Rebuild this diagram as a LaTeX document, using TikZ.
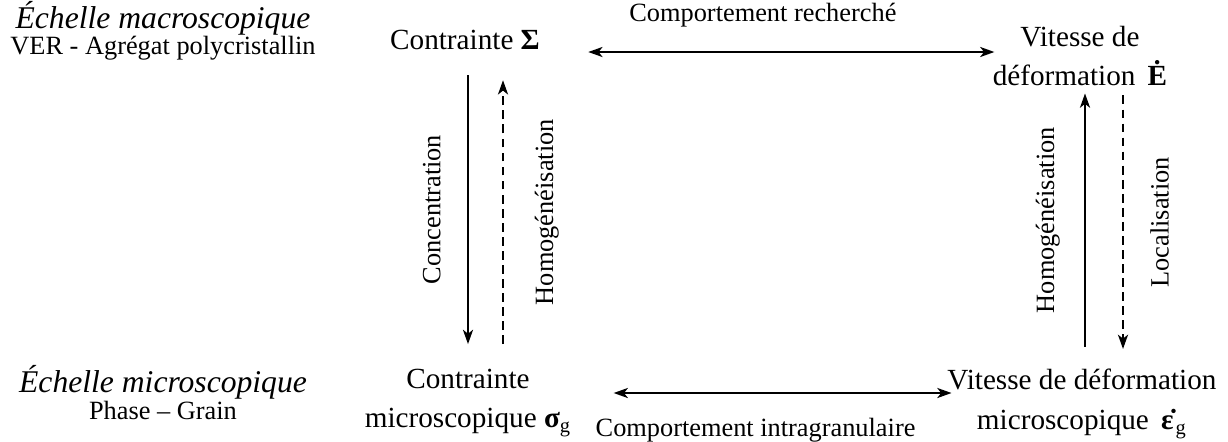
\documentclass[tikz,border=0pt]{standalone}
\usepackage{fontspec}
\setmainfont{Liberation Serif}
\usepackage{tikz}
\usetikzlibrary{arrows.meta, positioning}
\tikzset{
    diagram/.style={font=\fontsize{12}{14}\selectfont},
    diagram box/.style={inner sep=0pt, align=center, font=\fontsize{13.3}{18}\selectfont},
    diagram scale/.style={inner sep=0pt, anchor=base, font=\fontsize{14.4}{18}\selectfont\itshape},
    diagram sub/.style={inner sep=0pt, anchor=base},
    diagram arrow/.style={-{Stealth[length=6.5pt, width=4.6pt, inset=1.8pt]}, line width=0.9pt},
    diagram double arrow/.style={{Stealth[length=6.5pt, width=4.6pt, inset=1.8pt]}-{Stealth[length=6.5pt, width=4.6pt, inset=1.8pt]}, line width=0.9pt},
    diagram dashed arrow/.style={diagram arrow, dash pattern=on 4pt off 2.4pt},
    diagram label/.style={inner sep=0pt},
}

\begin{document}
\begin{tikzpicture}[diagram, x=0.016cm, y=-0.016cm]
    \useasboundingbox (0,0) rectangle (1228,441);

    % Scales
    \node[diagram scale] (macro) at (163,28) {Échelle macroscopique};
    \node[diagram sub] (ver) at (163,54) {VER - Agrégat polycristallin};
    \node[diagram scale] (micro) at (163,392) {Échelle microscopique};
    \node[diagram sub] (phase) at (163,419) {Phase – Grain};

    % Nodes
    \node[diagram box] (sigmaMacro) at (465,40) {Contrainte \textbf{Σ}};
    \node[diagram box] (edotMacro) at (1080,56) {Vitesse de\\déformation \,\textbf{Ė}};
    \node[diagram box] (sigmaMicro) at (468,403) {Contrainte\\microscopique \textbf{σ}\textsubscript{g}};
    \node[diagram box] (epsMicro) at (1082,404) {Vitesse de déformation\\microscopique \,\textbf{ε̇}\textsubscript{g}};

    % Arrows
    \draw[diagram double arrow] ([shift={(48,12)}]sigmaMacro.east) -- node[diagram label, pos=0.43, above=11pt] {Comportement recherché} ([shift={(2,-4)}]edotMacro.west);
    \draw[diagram double arrow] ([shift={(42,-10)}]sigmaMicro.east) -- node[diagram label, pos=0.42, below=11pt] {Comportement intragranulaire} ([shift={(4.5,-11)}]epsMicro.west);
    \draw[diagram arrow] ([shift={(3,25)}]sigmaMacro.south) -- node[diagram label, rotate=90, anchor=south, inner sep=12pt] {Concentration} ([shift={(0,-24.5)}]sigmaMicro.north);
    \draw[diagram dashed arrow] ([shift={(35,-24.5)}]sigmaMicro.north) -- node[diagram label, rotate=90, anchor=north, inner sep=14pt] {Homogénéisation} ([shift={(38,30)}]sigmaMacro.south);
    \draw[diagram arrow] ([shift={(3,-22)}]epsMicro.north) -- node[diagram label, rotate=90, anchor=south, inner sep=11pt] {Homogénéisation} ([shift={(5,7)}]edotMacro.south);
    \draw[diagram dashed arrow] ([shift={(43,9)}]edotMacro.south) -- node[diagram label, rotate=90, anchor=north, inner sep=12pt] {Localisation} ([shift={(41,-20)}]epsMicro.north);

\end{tikzpicture}
\end{document}
